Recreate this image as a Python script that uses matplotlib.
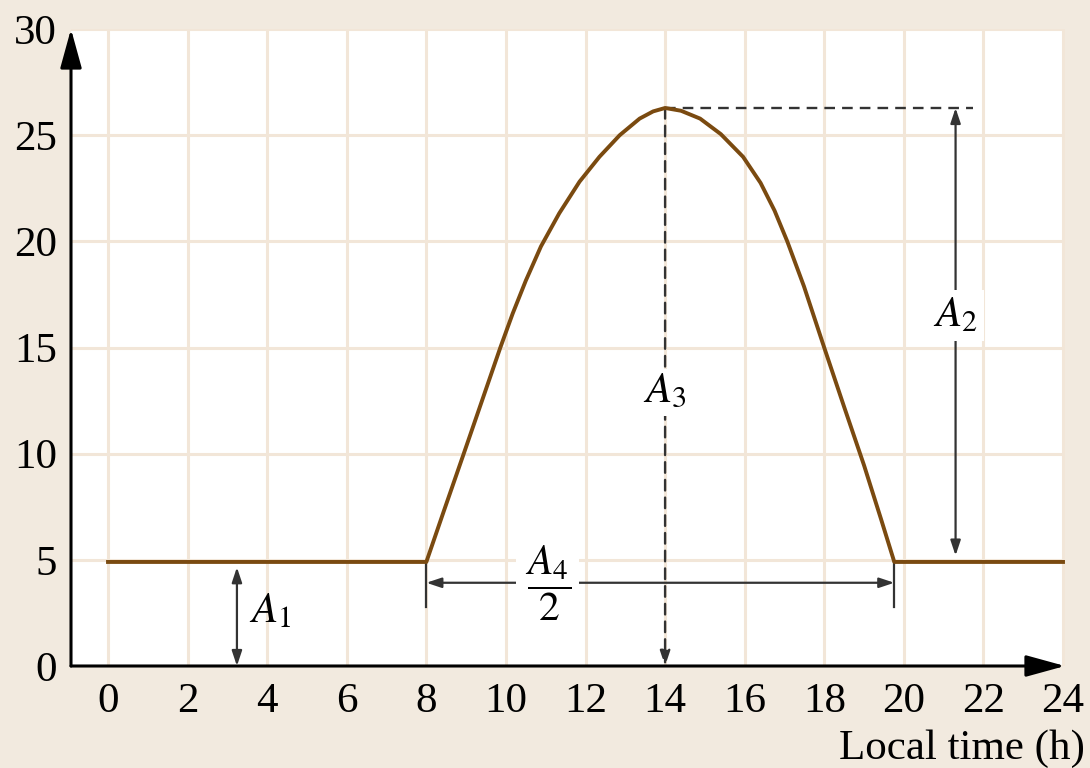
import matplotlib
matplotlib.use("Agg")
import matplotlib.pyplot as plt

plt.rcParams['font.family'] = ['Liberation Serif', 'DejaVu Serif']
plt.rcParams['mathtext.fontset'] = 'stix'

# curve (local time in h, value)
time_h = [0, 8, 8.44, 8.94, 9.40, 9.86, 10.17, 10.50, 10.88, 11.34, 11.85, 12.35, 12.86, 13.36, 13.70,
          14.0, 14.40, 14.88, 15.40, 15.96, 16.40, 16.75, 17.07, 17.49, 18.0, 18.5, 19.0, 19.43, 19.76, 24]
value = [4.9, 4.9, 7.3, 10.0, 12.5, 15.0, 16.6, 18.15, 19.76, 21.32, 22.81, 23.98, 25.0, 25.78, 26.12,
         26.28, 26.15, 25.78, 25.05, 23.98, 22.75, 21.45, 20.0, 17.88, 14.99, 12.2, 9.45, 6.9, 4.9, 4.9]

xticks = list(range(0, 25, 2))
yticks = list(range(0, 31, 5))

# annotation anchors
a1_x, a1_top = 3.24, 4.65
a2_x, a2_bot = 21.3, 5.2
peak_t, peak_v = 14.0, 26.28
dash_end = 21.75
a4_y, a4_left, a4_right = 3.92, 8.0, 19.76

bg = '#f2eadf'
ink = '#333333'

fig = plt.figure(figsize=(10.9, 7.68), dpi=100, facecolor=bg)
ax = fig.add_axes([71/1090, 102/768, 994/1090, 637/768])
ax.set_facecolor('white')
ax.set_xlim(-0.93, 24.05)
ax.set_ylim(0, 30)

ax.set_xticks(xticks)
ax.set_yticks(yticks)
ax.grid(True, color='#f2e6d8', lw=2.2, zorder=0)
ax.set_axisbelow(True)
ax.tick_params(length=0, labelsize=31)
ax.tick_params(axis='x', pad=12)
ax.tick_params(axis='y', pad=10)
for s in ax.spines.values():
    s.set_visible(False)

# axis arrows
axis_arrow = dict(arrowstyle='-|>,head_length=1.2,head_width=0.33', color='black',
                  lw=2.2, mutation_scale=20, shrinkA=0, shrinkB=0)
ax.annotate('', xy=(0, 1.0), xytext=(0, 0), xycoords='axes fraction',
            arrowprops=axis_arrow, annotation_clip=False)
ax.annotate('', xy=(1.0, 0), xytext=(0, 0), xycoords='axes fraction',
            arrowprops=axis_arrow, annotation_clip=False)

ax.plot(time_h, value, color='#7a4a10', lw=2.8, zorder=5, solid_joinstyle='round')

dash = (0, (4.5, 3))
# A3 dashed drop from the peak
ax.annotate('', xy=(peak_t, 0), xytext=(peak_t, peak_v),
            arrowprops=dict(arrowstyle='-|>,head_length=0.75,head_width=0.25', color=ink, lw=1.7,
                            linestyle=dash, mutation_scale=12, shrinkA=0, shrinkB=0))
ax.plot([peak_t, dash_end], [peak_v, peak_v], color=ink, lw=1.7, linestyle=dash)
ax.text(peak_t, 12.9, r'$A_3$', fontsize=31, ha='center', va='center',
        bbox=dict(boxstyle='square,pad=0.1', fc='white', ec='none'), zorder=6)

arrow2 = dict(arrowstyle='<|-|>,head_length=0.75,head_width=0.25', color=ink, lw=1.6,
              mutation_scale=12, shrinkA=0, shrinkB=0)
# A1
ax.annotate('', xy=(a1_x, 0), xytext=(a1_x, a1_top), arrowprops=arrow2)
ax.text(3.55, 2.55, r'$A_1$', fontsize=31, ha='left', va='center')
# A2
ax.annotate('', xy=(a2_x, peak_v), xytext=(a2_x, a2_bot), arrowprops=arrow2)
ax.text(a2_x, 16.5, r'$A_2$', fontsize=31, ha='center', va='center',
        bbox=dict(boxstyle='square,pad=0.15', fc='white', ec='none'), zorder=6)
# A4/2
ax.plot([a4_left, a4_left], [4.9, 2.8], color=ink, lw=1.6)
ax.plot([a4_right, a4_right], [4.9, 2.8], color=ink, lw=1.6)
ax.annotate('', xy=(a4_left, a4_y), xytext=(a4_right, a4_y), arrowprops=arrow2)
ax.text(11.05, 3.92, r'$\dfrac{A_4}{2}$', fontsize=30, ha='center', va='center',
        bbox=dict(boxstyle='square,pad=0.2', fc='white', ec='none'), zorder=6)

fig.text(1085/1090, 9/768, 'Local time (h)', fontsize=31, ha='right', va='baseline')

fig.savefig('out.png', dpi=100, facecolor=bg)
